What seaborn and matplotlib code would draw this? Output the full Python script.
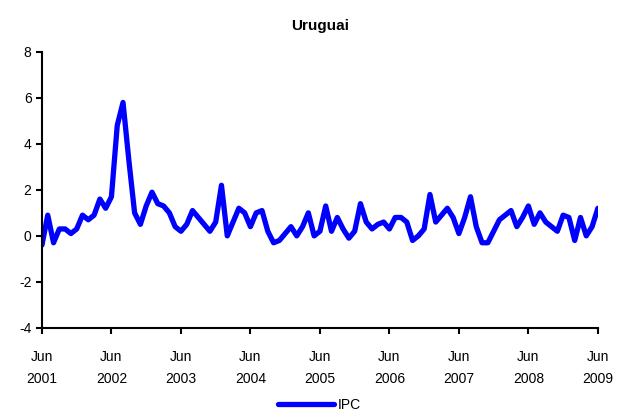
import pandas as pd
import seaborn as sns
import matplotlib.pyplot as plt

# IPC mensual Uruguay, jun 2001 - jun 2009 (variación %)
ipc = [
    -0.4, 0.9, -0.3, 0.3, 0.3, 0.1, 0.3, 0.9, 0.7, 0.9, 1.6, 1.2,
    1.7, 4.8, 5.8, 3.3, 1.0, 0.5, 1.3, 1.9, 1.4, 1.3, 1.0, 0.4,
    0.2, 0.5, 1.1, 0.8, 0.5, 0.2, 0.6, 2.2, 0.0, 0.6, 1.2, 1.0,
    0.4, 1.0, 1.1, 0.2, -0.3, -0.2, 0.1, 0.4, 0.0, 0.4, 1.0, 0.0,
    0.2, 1.3, 0.2, 0.8, 0.3, -0.1, 0.2, 1.4, 0.6, 0.3, 0.5, 0.6,
    0.3, 0.8, 0.8, 0.6, -0.2, 0.0, 0.3, 1.8, 0.6, 0.9, 1.2, 0.8,
    0.1, 0.8, 1.7, 0.4, -0.3, -0.3, 0.2, 0.7, 0.9, 1.1, 0.4, 0.8,
    1.3, 0.5, 1.0, 0.6, 0.4, 0.2, 0.9, 0.8, -0.2, 0.8, 0.0, 0.4,
    1.2,
]
years = list(range(2001, 2010))
yticks = [-4, -2, 0, 2, 4, 6, 8]

df = pd.DataFrame({'mes': range(len(ipc)), 'IPC': ipc})

sns.set_style('white')
plt.rcParams['font.family'] = ['Liberation Sans', 'DejaVu Sans']
plt.rcParams['text.color'] = 'black'
plt.rcParams['xtick.color'] = 'black'
plt.rcParams['ytick.color'] = 'black'

fig = plt.figure(figsize=(6.17, 4.15), dpi=100)
ax = fig.add_axes([0.068, 0.21, 0.901, 0.665])

sns.lineplot(data=df, x='mes', y='IPC', color='#0000FF', linewidth=3.8,
             label='IPC', ax=ax)

ax.set_xlim(0, len(ipc) - 1)
ax.set_ylim(-4, 8)
ax.set_xticks([12 * i for i in range(len(years))])
ax.set_xticklabels([f'Jun\n{y}' for y in years], fontsize=10, linespacing=1.7)
ax.set_yticks(yticks)
ax.set_yticklabels([str(t) for t in yticks], fontsize=10)
ax.set_xlabel('')
ax.set_ylabel('')
ax.set_title('Uruguai', fontsize=11, fontweight='bold', pad=16, color='black')

for s in ['top', 'right']:
    ax.spines[s].set_visible(False)
for s in ['left', 'bottom']:
    ax.spines[s].set_color('black')
    ax.spines[s].set_linewidth(1.5)
ax.tick_params(axis='both', direction='out', length=4, width=1.5,
               color='black', labelcolor='black', left=True, bottom=True)
ax.tick_params(axis='x', pad=12)

leg = ax.legend(loc='center', bbox_to_anchor=(0.5, -0.28), frameon=False,
                fontsize=10, handlelength=4, handletextpad=0.3)
for t in leg.get_texts():
    t.set_color('black')

fig.savefig('out.png', dpi=100)
